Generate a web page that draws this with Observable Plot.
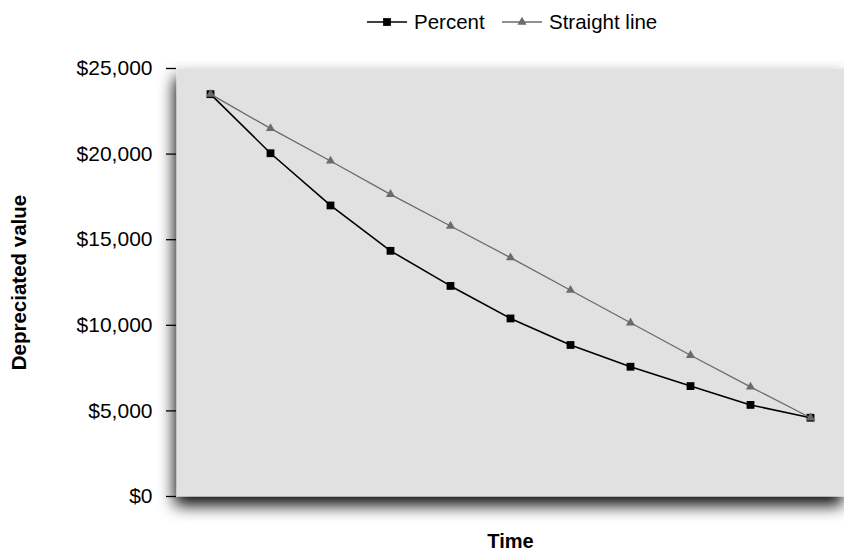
<!DOCTYPE html>
<html>
<head>
<meta charset="utf-8">
<script src="https://cdn.jsdelivr.net/npm/d3@7"></script>
<script src="https://cdn.jsdelivr.net/npm/@observablehq/plot@0.6"></script>
<style>
  html, body { margin: 0; padding: 0; background: #ffffff; }
  body { width: 844px; height: 550px; overflow: hidden; font-family: "Liberation Sans", Arial, sans-serif; }
  #legend { position: relative; height: 44px; }
  .item { position: absolute; top: 0; height: 44px; display: flex; align-items: center; font-size: 20.5px; color: #000; }
  .item svg { display: block; }
</style>
</head>
<body>
<div id="legend"></div>
<div id="chart"></div>
<script>
// ---- data ----
const periods = [0, 1, 2, 3, 4, 5, 6, 7, 8, 9, 10];
const percentValues = [23500, 20050, 17000, 14350, 12300, 10400, 8850, 7580, 6450, 5350, 4600];
const straightValues = [23500, 21500, 19600, 17650, 15800, 13950, 12050, 10150, 8250, 6400, 4600];
const seriesNames = ["Percent", "Straight line"];
const yTicks = [0, 5000, 10000, 15000, 20000, 25000];
const xLabel = "Time";
const yLabel = "Depreciated value";

const percentColor = "#000000";
const straightColor = "#6b6b6b";

const percentRows = periods.map((p, i) => ({period: p, value: percentValues[i]}));
const straightRows = periods.map((p, i) => ({period: p, value: straightValues[i]}));

// ---- legend ----
const legend = document.getElementById("legend");
function legendItem(left, name, color, symbol) {
  const div = document.createElement("div");
  div.className = "item";
  div.style.left = left + "px";
  const ns = "http://www.w3.org/2000/svg";
  const s = document.createElementNS(ns, "svg");
  s.setAttribute("width", 40); s.setAttribute("height", 14);
  const line = document.createElementNS(ns, "line");
  line.setAttribute("x1", 0); line.setAttribute("x2", 40);
  line.setAttribute("y1", 7); line.setAttribute("y2", 7);
  line.setAttribute("stroke", color); line.setAttribute("stroke-width", symbol === "square" ? 1.6 : 1.3);
  s.appendChild(line);
  const path = document.createElementNS(ns, "path");
  const sym = symbol === "square" ? d3.symbolSquare : d3.symbolTriangle;
  const r = symbol === "square" ? 4.4 : 3.4;
  path.setAttribute("d", d3.symbol(sym, Math.PI * r * r)());
  path.setAttribute("transform", "translate(20,7)");
  path.setAttribute("fill", color);
  s.appendChild(path);
  div.appendChild(s);
  const span = document.createElement("span");
  span.textContent = name;
  span.style.marginLeft = "7px";
  div.appendChild(span);
  legend.appendChild(div);
}
legendItem(367, seriesNames[0], percentColor, "square");
legendItem(502, seriesNames[1], straightColor, "triangle");

// ---- chart ----
const plot = Plot.plot({
  width: 844,
  height: 506,
  marginTop: 24,
  marginBottom: 54,
  marginLeft: 176,
  marginRight: 0,
  style: {fontFamily: "'Liberation Sans', Arial, sans-serif", background: "transparent", overflow: "visible"},
  x: {type: "point", domain: periods, padding: 0.55, axis: null},
  y: {domain: [0, 25000], axis: null},
  marks: [
    Plot.frame({fill: "#e1e1e1", stroke: "none"}),
    Plot.axisY({ticks: yTicks, tickFormat: d3.format("$,"), tickSize: 10, tickPadding: 14, fontSize: 21, color: "#000", strokeWidth: 1.3, label: null}),
    Plot.line(percentRows, {x: "period", y: "value", stroke: percentColor, strokeWidth: 1.6}),
    Plot.dot(percentRows, {x: "period", y: "value", symbol: "square", r: 4.4, fill: percentColor, stroke: "none"}),
    Plot.line(straightRows, {x: "period", y: "value", stroke: straightColor, strokeWidth: 1.3}),
    Plot.dot(straightRows, {x: "period", y: "value", symbol: "triangle", r: 3.4, fill: straightColor, stroke: "none"}),
    Plot.text([xLabel], {text: d => d, frameAnchor: "bottom", textAnchor: "middle", dy: 51, fontSize: 20, fontWeight: "bold", fill: "#000"}),
    Plot.text([yLabel], {text: d => d, frameAnchor: "left", textAnchor: "middle", dx: -157, rotate: -90, fontSize: 20.5, fontWeight: "bold", fill: "#000"})
  ]
});

// drop shadow on the plot frame
const ns = "http://www.w3.org/2000/svg";
const defs = document.createElementNS(ns, "defs");
defs.innerHTML = `<filter id="frameShadow" x="-10%" y="-15%" width="120%" height="140%">
  <feDropShadow dx="-2" dy="9" stdDeviation="8" flood-color="#000" flood-opacity="0.95"/>
</filter>`;
plot.insertBefore(defs, plot.firstChild);
const frame = plot.querySelector('[aria-label="frame"]');
if (frame) frame.setAttribute("filter", "url(#frameShadow)");

document.getElementById("chart").appendChild(plot);
</script>
</body>
</html>
